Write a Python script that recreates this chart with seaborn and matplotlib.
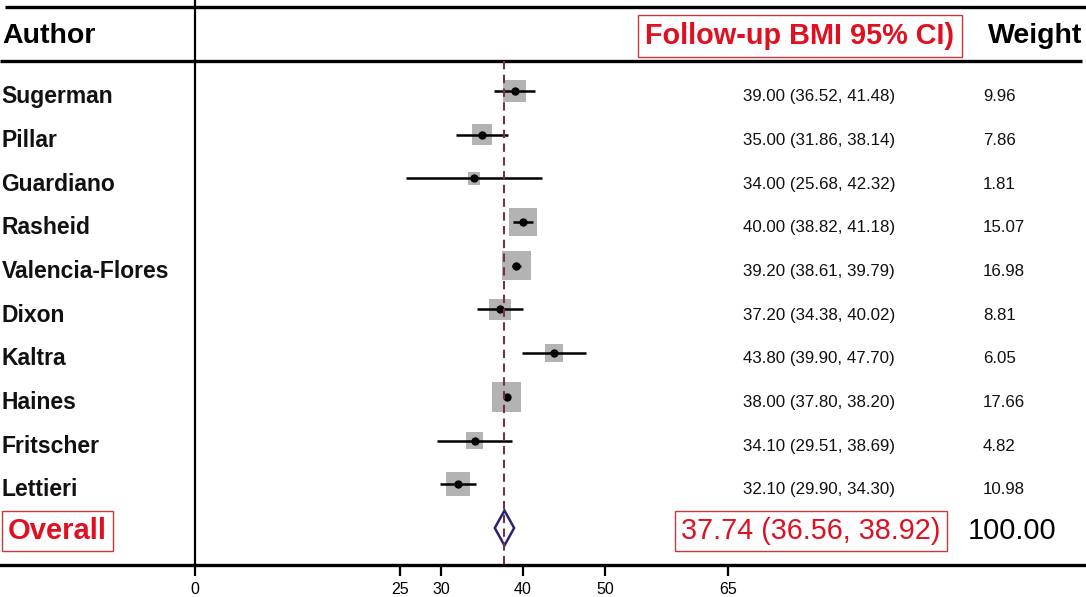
import matplotlib
matplotlib.use("Agg")
import matplotlib.pyplot as plt
from matplotlib.patches import Polygon
import pandas as pd
import seaborn as sns

# Study-level results (follow-up BMI, 95% CI, weight %)
authors = ["Sugerman", "Pillar", "Guardiano", "Rasheid", "Valencia-Flores",
           "Dixon", "Kaltra", "Haines", "Fritscher", "Lettieri"]
estimate = [39.00, 35.00, 34.00, 40.00, 39.20, 37.20, 43.80, 38.00, 34.10, 32.10]
ci_low = [36.52, 31.86, 25.68, 38.82, 38.61, 34.38, 39.90, 37.80, 29.51, 29.90]
ci_high = [41.48, 38.14, 42.32, 41.18, 39.79, 40.02, 47.70, 38.20, 38.69, 34.30]
weight = [9.96, 7.86, 1.81, 15.07, 16.98, 8.81, 6.05, 17.66, 4.82, 10.98]

# Pooled estimate
overall_est = 37.74
overall_low = 36.56
overall_high = 38.92
overall_weight = 100.00

axis_ticks = [0, 25, 30, 40, 50, 65]

sns.set_theme(style="white")
plt.rcParams["font.family"] = ["Liberation Sans", "DejaVu Sans"]

df = pd.DataFrame({"author": authors, "est": estimate, "lo": ci_low,
                   "hi": ci_high, "w": weight})
df["row"] = range(len(df))
overall_row = len(df)

fig = plt.figure(figsize=(10.86, 5.97), dpi=100)
ax = fig.add_axes([0, 0, 1, 1])
ax.set_xlim(-23.78, 108.66)
ax.set_ylim(11.579, -2.082)

TOP_LINE = -1.922
HEAD_LINE = -0.686
HEAD_Y = -1.259
AXIS_Y = 10.847
TXT_DY = 0.13
RED = "#e01020"

# Weighted squares
wmin, wmax = min(weight), max(weight)
sns.scatterplot(data=df, x="est", y="row", size="w",
                sizes=(40 + 23 * wmin, 40 + 23 * wmax), size_norm=(wmin, wmax),
                marker="s", color="#b3b3b3", edgecolor="none", linewidth=0,
                legend=False, ax=ax, zorder=2)
# Confidence intervals
ax.hlines(df["row"], df["lo"], df["hi"], color="black", lw=1.8, zorder=3)
# Point estimates
sns.scatterplot(data=df, x="est", y="row", s=36, color="black",
                edgecolor="black", linewidth=0, legend=False, ax=ax, zorder=4)

# Pooled diamond
dh = 0.40
diamond = Polygon([(overall_low, overall_row), (overall_est, overall_row - dh),
                   (overall_high, overall_row), (overall_est, overall_row + dh)],
                  closed=True, fill=False, edgecolor="#2a2373", lw=1.8, zorder=3)
ax.add_patch(diamond)
# Reference line at pooled estimate
ax.vlines(overall_est, HEAD_LINE, AXIS_Y, colors="#743346", lw=1.5,
          linestyles=(0, (4, 2.6)), zorder=5)

# Table rules
ax.hlines(TOP_LINE, -23.17, 108.66, color="black", lw=2.4, zorder=1)
ax.hlines(HEAD_LINE, -23.78, 108.2, color="black", lw=2.4, zorder=1)

# Axis: left spine at zero, bottom spine below the last row
for side in ("top", "right"):
    ax.spines[side].set_visible(False)
ax.spines["left"].set_position(("data", 0))
ax.spines["left"].set_bounds(-2.082, AXIS_Y)
ax.spines["left"].set_linewidth(1.6)
ax.spines["left"].set_color("black")
ax.spines["bottom"].set_position(("data", AXIS_Y))
ax.spines["bottom"].set_linewidth(2.4)
ax.spines["bottom"].set_color("black")
ax.set_xticks(axis_ticks)
ax.set_xticklabels([str(t) for t in axis_ticks])
ax.set_yticks([])
ax.tick_params(axis="x", direction="out", length=8, width=1.6, pad=4,
               labelsize=11.5, colors="black", bottom=True)
ax.set_xlabel("")
ax.set_ylabel("")

# Header
ax.text(-23.55, HEAD_Y, "Author", fontsize=20.5, fontweight="bold",
        ha="left", va="center", color="black")
ax.text(54.9, HEAD_Y, "Follow-up BMI 95% CI)", fontsize=20.8, fontweight="bold",
        ha="left", va="center", color=RED,
        bbox=dict(boxstyle="square,pad=0.25", fc="white", ec="#c83a3a", lw=1))
ax.text(96.7, HEAD_Y, "Weight", fontsize=20.5, fontweight="bold",
        ha="left", va="center", color="black")

# Study rows
for r in df.itertuples():
    y = r.row + TXT_DY
    ax.text(-23.6, y, r.author, fontsize=16.5, fontweight="bold",
            ha="left", va="center", color="#111111")
    ax.text(66.8, y, f"{r.est:.2f} ({r.lo:.2f}, {r.hi:.2f})", fontsize=12.2,
            ha="left", va="center", color="#111111")
    ax.text(96.1, y, f"{r.w:.2f}", fontsize=12.2,
            ha="left", va="center", color="#111111")

# Overall row
yo = overall_row + 0.07
ax.text(-22.8, yo, "Overall", fontsize=21, fontweight="bold",
        ha="left", va="center", color=RED,
        bbox=dict(boxstyle="square,pad=0.2", fc="white", ec="#c83a3a", lw=1))
ax.text(59.3, yo, f"{overall_est:.2f} ({overall_low:.2f}, {overall_high:.2f})",
        fontsize=20.7, ha="left", va="center", color=RED,
        bbox=dict(boxstyle="square,pad=0.22", fc="white", ec="#c83a3a", lw=1))
ax.text(94.3, yo, f"{overall_weight:.2f}", fontsize=20.8,
        ha="left", va="center", color="black")

fig.savefig("out.png", dpi=100)
